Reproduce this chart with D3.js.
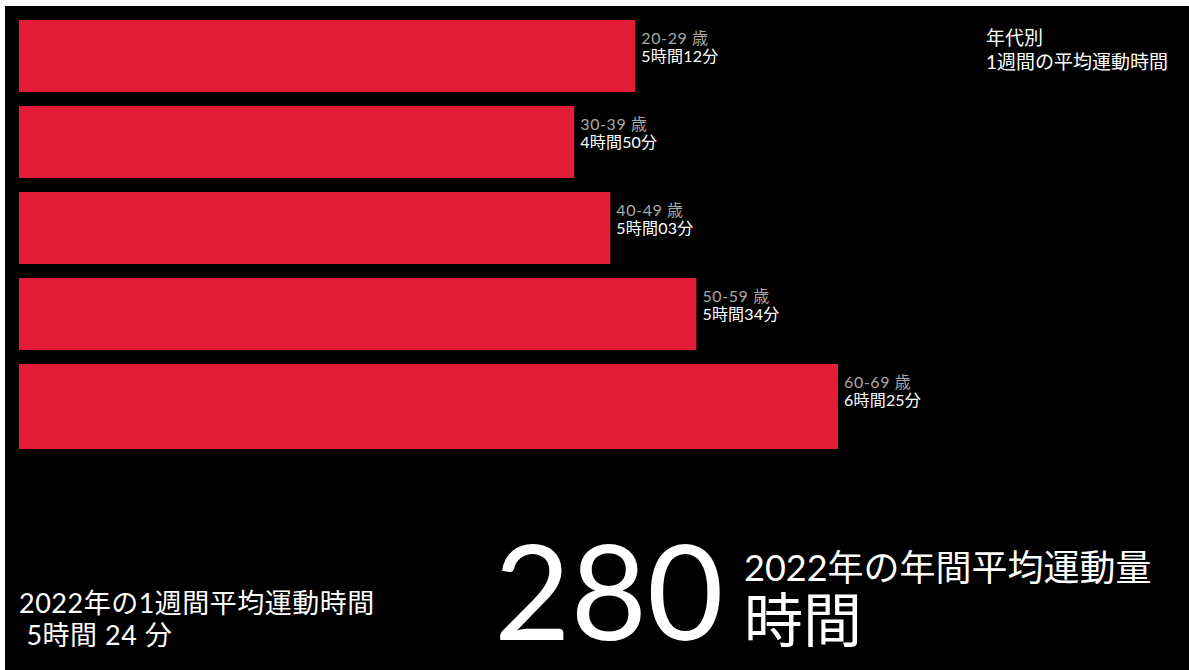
<!DOCTYPE html>
<html>
<head>
<meta charset="utf-8">
<script src="https://cdn.jsdelivr.net/npm/d3@7"></script>
<style>
  html, body { margin: 0; padding: 0; background: #fff; }
  svg { display: block; }
  text { font-family: "Lato", "Noto Sans CJK JP", "Noto Sans", sans-serif; }
</style>
</head>
<body>
<svg id="chart" width="1189" height="670"></svg>
<script>
// Data
const ageGroups = ["20-29 歳", "30-39 歳", "40-49 歳", "50-59 歳", "60-69 歳"];
const minutesPerWeek = [312, 290, 303, 334, 385];
const durationLabels = ["5時間12分", "4時間50分", "5時間03分", "5時間34分", "6時間25分"];
const titleLines = ["年代別", "1週間の平均運動時間"];
const weeklySummary = ["2022年の1週間平均運動時間", " 5時間 24 分"];
const annualTotal = "280";
const annualLabel = ["2022年の年間平均運動量", "時間"];

const W = 1189, H = 670;
const svg = d3.select("#chart");

svg.append("rect").attr("x", 0).attr("y", 0).attr("width", W).attr("height", H).attr("fill", "#fff");
svg.append("rect").attr("x", 5).attr("y", 6).attr("width", W - 5).attr("height", H - 6).attr("fill", "#000");

const data = ageGroups.map((g, i) => ({ group: g, value: minutesPerWeek[i], label: durationLabels[i] }));

const x = d3.scaleLinear().domain([90, d3.max(minutesPerWeek)]).range([19, 838]);
const y = d3.scaleBand().domain(ageGroups).range([20, 436]).paddingInner(14 / 86).paddingOuter(0);

const last = ageGroups[ageGroups.length - 1];

svg.append("g").selectAll("rect")
  .data(data)
  .join("rect")
  .attr("x", x.range()[0])
  .attr("y", d => y(d.group))
  .attr("width", d => x(d.value) - x.range()[0])
  .attr("height", d => d.group === last ? y.step() - 1 : y.bandwidth())
  .attr("fill", "#e31d36");

const labels = svg.append("g").selectAll("g")
  .data(data)
  .join("g")
  .attr("transform", d => `translate(${x(d.value) + 6},${y(d.group)})`);

labels.append("text")
  .attr("y", 24)
  .attr("fill", "#a8a8a8")
  .attr("font-size", 16)
  .attr("letter-spacing", 0.6)
  .text(d => d.group);

labels.append("text")
  .attr("y", 42)
  .attr("fill", "#fff")
  .attr("font-size", 16)
  .attr("letter-spacing", 0.2)
  .text(d => d.label);

// Title top-right
svg.append("g").selectAll("text")
  .data(titleLines)
  .join("text")
  .attr("x", 986)
  .attr("y", (d, i) => 45 + i * 24)
  .attr("fill", "#fff")
  .attr("font-size", 19)
  .text(d => d);

// Bottom-left summary
svg.append("g").selectAll("text")
  .data(weeklySummary)
  .join("text")
  .attr("x", 19)
  .attr("y", (d, i) => 613 + i * 32)
  .attr("fill", "#fff")
  .attr("font-size", 27)
  .attr("letter-spacing", 0.5)
  .attr("xml:space", "preserve")
  .style("white-space", "pre")
  .text(d => d);

// Big number
svg.append("text")
  .attr("x", 494)
  .attr("y", 640)
  .attr("fill", "#fff")
  .attr("font-size", 132)
  .text(annualTotal);

svg.append("text")
  .attr("x", 744)
  .attr("y", 581)
  .attr("fill", "#fff")
  .attr("font-size", 36)
  .text(annualLabel[0]);

svg.append("text")
  .attr("x", 744)
  .attr("y", 642)
  .attr("fill", "#fff")
  .attr("font-size", 59)
  .text(annualLabel[1]);
</script>
</body>
</html>
